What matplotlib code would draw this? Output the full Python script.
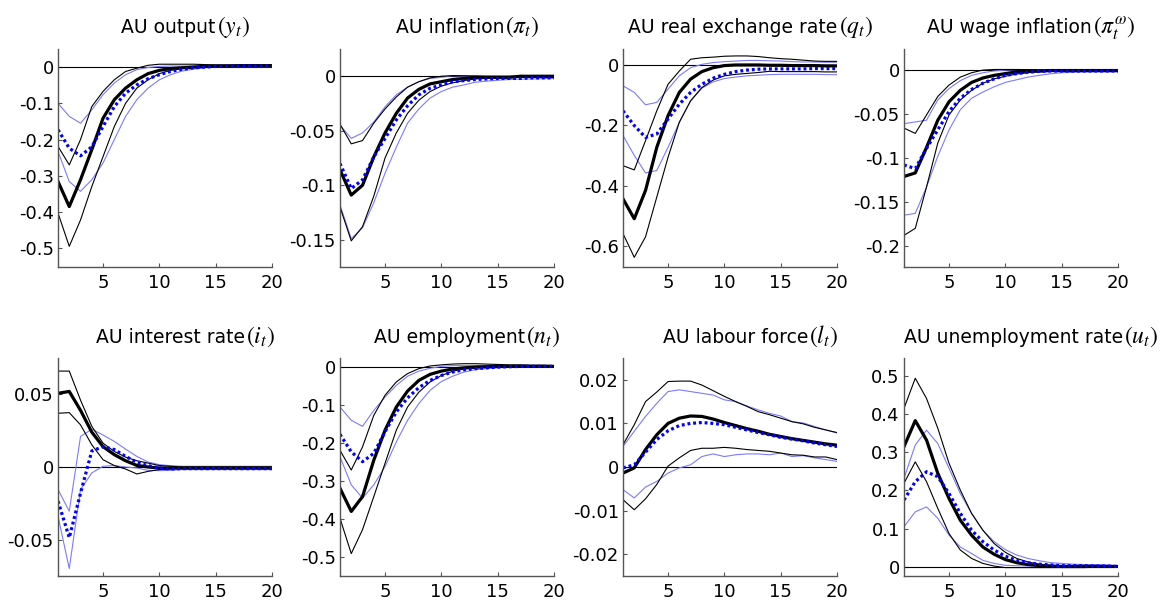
import matplotlib
matplotlib.use("Agg")
import matplotlib.pyplot as plt
import numpy as np

plt.rcParams["mathtext.fontset"] = "stix"
plt.rcParams["font.family"] = "DejaVu Sans"

horizon = np.arange(1, 21)

title_words = ["AU output", "AU inflation", "AU real exchange rate", "AU wage inflation",
               "AU interest rate", "AU employment", "AU labour force", "AU unemployment rate"]
title_math = [r"$(y_t)$", r"$(\pi_t)$", r"$(q_t)$", r"$(\pi_t^{\omega})$",
              r"$(i_t)$", r"$(n_t)$", r"$(l_t)$", r"$(u_t)$"]

# black = model A (median, upper, lower); blue = model B (median, upper, lower)
output_black = [-0.316, -0.385, -0.311, -0.228, -0.141, -0.09, -0.058, -0.035, -0.018, -0.009,
                -0.004, -0.002, 0.0, 0.002, 0.003, 0.003, 0.004, 0.004, 0.004, 0.004]
output_black_hi = [-0.219, -0.27, -0.2, -0.109, -0.067, -0.035, -0.012, -0.003, 0.005, 0.008,
                   0.008, 0.008, 0.008, 0.007, 0.006, 0.006, 0.005, 0.005, 0.005, 0.005]
output_black_lo = [-0.403, -0.495, -0.422, -0.33, -0.247, -0.164, -0.1, -0.058, -0.035, -0.018,
                   -0.009, -0.004, -0.001, 0.0, 0.001, 0.001, 0.002, 0.002, 0.002, 0.002]
output_blue = [-0.173, -0.224, -0.245, -0.22, -0.164, -0.109, -0.072, -0.049, -0.032, -0.021,
               -0.012, -0.006, -0.002, 0.0, 0.002, 0.003, 0.003, 0.003, 0.003, 0.003]
output_blue_hi = [-0.1, -0.136, -0.155, -0.118, -0.076, -0.044, -0.021, -0.007, -0.001, 0.002,
                  0.003, 0.003, 0.003, 0.003, 0.003, 0.003, 0.003, 0.003, 0.003, 0.003]
output_blue_lo = [-0.233, -0.316, -0.343, -0.311, -0.265, -0.2, -0.136, -0.09, -0.058, -0.035,
                  -0.021, -0.011, -0.006, -0.002, 0.0, 0.001, 0.001, 0.001, 0.001, 0.001]

infl_black = [-0.086, -0.109, -0.1, -0.074, -0.052, -0.034, -0.02, -0.012, -0.007, -0.005,
              -0.003, -0.002, -0.001, -0.001, -0.001, -0.001, 0.0, 0.0, 0.0, 0.0]
infl_black_hi = [-0.044, -0.062, -0.059, -0.043, -0.03, -0.019, -0.01, -0.005, -0.0015, 0.0,
                 0.0006, 0.0005, 0.0003, 0.0, 0.0, 0.0, 0.0, 0.0, 0.0, 0.0]
infl_black_lo = [-0.12, -0.151, -0.138, -0.11, -0.075, -0.052, -0.034, -0.022, -0.014, -0.009,
                 -0.006, -0.004, -0.0025, -0.002, -0.0015, -0.001, -0.001, -0.001, -0.001, -0.001]
infl_blue = [-0.08, -0.103, -0.095, -0.074, -0.057, -0.04, -0.027, -0.017, -0.011, -0.008,
             -0.005, -0.004, -0.003, -0.0025, -0.002, -0.002, -0.002, -0.0015, -0.0015, -0.0015]
infl_blue_hi = [-0.045, -0.057, -0.052, -0.042, -0.028, -0.017, -0.01, -0.005, -0.002, -0.001,
                0.0005, 0.0, -0.0003, -0.0005, -0.0005, -0.0005, -0.0005, -0.0005, -0.0005, -0.0005]
infl_blue_lo = [-0.118, -0.149, -0.139, -0.116, -0.089, -0.065, -0.043, -0.03, -0.02, -0.014,
                -0.01, -0.008, -0.0055, -0.0045, -0.0037, -0.003, -0.0027, -0.0025, -0.0022, -0.002]

rer_black = [-0.444, -0.51, -0.416, -0.273, -0.168, -0.091, -0.047, -0.022, -0.009, -0.002,
             0.0, 0.0, 0.0, -0.001, -0.001, -0.002, -0.002, -0.002, -0.003, -0.003]
rer_black_hi = [-0.334, -0.348, -0.251, -0.152, -0.064, -0.02, 0.019, 0.024, 0.026, 0.029,
                0.03, 0.03, 0.028, 0.024, 0.021, 0.019, 0.016, 0.013, 0.012, 0.012]
rer_black_lo = [-0.559, -0.638, -0.57, -0.438, -0.306, -0.19, -0.119, -0.075, -0.05, -0.036,
                -0.031, -0.028, -0.025, -0.021, -0.022, -0.022, -0.022, -0.022, -0.023, -0.023]
rer_blue = [-0.152, -0.201, -0.24, -0.229, -0.179, -0.13, -0.091, -0.064, -0.044, -0.031,
            -0.022, -0.017, -0.014, -0.013, -0.013, -0.013, -0.013, -0.012, -0.012, -0.012]
rer_blue_hi = [-0.069, -0.091, -0.132, -0.124, -0.08, -0.036, -0.009, 0.002, 0.008, 0.011,
               0.013, 0.015, 0.015, 0.014, 0.013, 0.011, 0.01, 0.01, 0.009, 0.009]
rer_blue_lo = [-0.234, -0.3, -0.358, -0.35, -0.273, -0.19, -0.119, -0.077, -0.056, -0.045,
               -0.04, -0.036, -0.034, -0.032, -0.031, -0.031, -0.031, -0.031, -0.032, -0.032]

wage_black = [-0.121, -0.117, -0.088, -0.057, -0.036, -0.023, -0.014, -0.009, -0.006, -0.004,
              -0.002, -0.001, -0.001, -0.0005, -0.0005, -0.0005, -0.0005, -0.0005, -0.0005, -0.0005]
wage_black_hi = [-0.066, -0.072, -0.051, -0.03, -0.017, -0.008, -0.003, 0.0, 0.0007, 0.0007,
                 0.0007, 0.0005, 0.0003, 0.0, 0.0, 0.0, 0.0, 0.0, 0.0, 0.0]
wage_black_lo = [-0.188, -0.18, -0.133, -0.083, -0.051, -0.034, -0.023, -0.015, -0.01, -0.007,
                 -0.0045, -0.003, -0.002, -0.0015, -0.001, -0.001, -0.001, -0.001, -0.001, -0.001]
wage_blue = [-0.108, -0.112, -0.089, -0.068, -0.047, -0.032, -0.022, -0.015, -0.01, -0.006,
             -0.004, -0.0025, -0.0015, -0.001, -0.001, -0.001, -0.001, -0.001, -0.001, -0.001]
wage_blue_hi = [-0.061, -0.059, -0.057, -0.034, -0.021, -0.012, -0.006, -0.003, -0.001, 0.0,
                0.0004, 0.0003, 0.0, 0.0, 0.0, 0.0, 0.0, 0.0, 0.0, 0.0]
wage_blue_lo = [-0.165, -0.163, -0.133, -0.098, -0.068, -0.045, -0.032, -0.025, -0.019, -0.014,
                -0.011, -0.008, -0.006, -0.0042, -0.003, -0.0025, -0.0022, -0.002, -0.002, -0.002]

rate_black = [0.0507, 0.052, 0.039, 0.024, 0.014, 0.0085, 0.0043, 0.0011, 0.0, -0.0007,
              -0.0007, -0.0007, -0.0007, -0.0007, -0.0007, -0.0007, -0.0007, -0.0007, -0.0007, -0.0007]
rate_black_hi = [0.066, 0.066, 0.046, 0.028, 0.0164, 0.0107, 0.0068, 0.0043, 0.0027, 0.001,
                 0.0005, 0.0, 0.0, 0.0, 0.0, 0.0, 0.0, 0.0, 0.0, 0.0]
rate_black_lo = [0.037, 0.0374, 0.029, 0.0153, 0.005, 0.001, -0.0014, -0.0048, -0.003, -0.0018,
                 -0.0014, -0.0009, -0.0009, -0.0009, -0.0009, -0.0009, -0.0009, -0.0009, -0.0009, -0.0009]
rate_blue = [-0.0235, -0.0486, -0.018, 0.011, 0.014, 0.012, 0.0073, 0.0032, 0.0009, -0.0007,
             -0.0014, -0.0011, -0.0011, -0.0011, -0.0011, -0.0011, -0.0011, -0.0011, -0.0011, -0.0011]
rate_blue_hi = [-0.0155, -0.0304, 0.021, 0.026, 0.022, 0.0176, 0.0123, 0.0073, 0.0034, 0.0016,
                0.0009, 0.0005, 0.0005, 0.0005, 0.0005, 0.0005, 0.0005, 0.0005, 0.0005, 0.0005]
rate_blue_lo = [-0.0338, -0.0699, -0.0155, -0.0041, 0.0005, 0.001, 0.0, -0.0007, -0.0023, -0.0025,
                -0.0023, -0.0018, -0.0018, -0.0018, -0.0018, -0.0018, -0.0018, -0.0018, -0.0018, -0.0018]

emp_black = [-0.319, -0.38, -0.341, -0.245, -0.166, -0.105, -0.063, -0.035, -0.019, -0.0105,
             -0.005, -0.002, 0.0, 0.001, 0.002, 0.002, 0.002, 0.002, 0.002, 0.002]
emp_black_hi = [-0.219, -0.271, -0.21, -0.127, -0.074, -0.039, -0.017, -0.004, 0.003, 0.006,
                0.008, 0.009, 0.009, 0.008, 0.007, 0.006, 0.006, 0.005, 0.005, 0.004]
emp_black_lo = [-0.398, -0.491, -0.428, -0.341, -0.253, -0.166, -0.105, -0.066, -0.039, -0.022,
                -0.011, -0.005, -0.002, 0.0, 0.0, 0.001, 0.001, 0.001, 0.001, 0.001]
emp_blue = [-0.177, -0.223, -0.249, -0.227, -0.17, -0.118, -0.081, -0.054, -0.035, -0.022,
            -0.013, -0.007, -0.004, -0.002, 0.0, 0.001, 0.002, 0.002, 0.002, 0.002]
emp_blue_hi = [-0.105, -0.14, -0.156, -0.114, -0.079, -0.048, -0.024, -0.0105, -0.003, 0.002,
               0.004, 0.004, 0.004, 0.004, 0.004, 0.004, 0.004, 0.004, 0.004, 0.004]
emp_blue_lo = [-0.236, -0.31, -0.345, -0.31, -0.262, -0.197, -0.14, -0.096, -0.061, -0.038,
               -0.024, -0.013, -0.007, -0.004, -0.002, 0.0, 0.0, 0.0, 0.0, 0.0]

lab_black = [-0.0014, -0.0002, 0.004, 0.0074, 0.01, 0.0112, 0.0117, 0.0116, 0.011, 0.0102,
             0.0095, 0.0088, 0.0082, 0.0075, 0.007, 0.0065, 0.0061, 0.0057, 0.0053, 0.005]
lab_black_hi = [0.0051, 0.0097, 0.015, 0.0172, 0.0196, 0.0197, 0.0197, 0.0188, 0.0175, 0.0162,
                0.015, 0.0139, 0.0127, 0.012, 0.0112, 0.0104, 0.0099, 0.0091, 0.0085, 0.0079]
lab_black_lo = [-0.0075, -0.0098, -0.0073, -0.004, 0.0002, 0.0021, 0.0038, 0.0043, 0.0043, 0.0045,
                0.0043, 0.004, 0.0038, 0.0036, 0.0032, 0.0028, 0.0027, 0.0023, 0.0023, 0.0017]
lab_blue = [-0.0002, 0.0005, 0.0034, 0.0063, 0.0083, 0.0095, 0.01, 0.0102, 0.01, 0.0097,
            0.0091, 0.0085, 0.0079, 0.0074, 0.0068, 0.0064, 0.006, 0.0055, 0.0051, 0.0047]
lab_blue_hi = [0.0047, 0.0082, 0.0116, 0.0146, 0.0173, 0.0177, 0.0173, 0.0169, 0.0165, 0.0154,
               0.015, 0.014, 0.0131, 0.0123, 0.0117, 0.0104, 0.0101, 0.0093, 0.0085, 0.0078]
lab_blue_lo = [-0.0052, -0.0071, -0.0046, -0.0033, -0.0014, -0.0002, 0.0005, 0.0024, 0.003, 0.0024,
               0.0028, 0.003, 0.003, 0.0028, 0.0032, 0.0024, 0.0026, 0.0021, 0.0017, 0.0013]

unemp_black = [0.315, 0.383, 0.332, 0.245, 0.179, 0.122, 0.083, 0.052, 0.033, 0.019,
               0.011, 0.006, 0.0035, 0.002, 0.001, 0.001, 0.001, 0.001, 0.001, 0.001]
unemp_black_hi = [0.415, 0.494, 0.441, 0.363, 0.271, 0.201, 0.14, 0.096, 0.061, 0.038,
                  0.022, 0.013, 0.007, 0.004, 0.003, 0.002, 0.002, 0.002, 0.002, 0.002]
unemp_black_lo = [0.219, 0.275, 0.223, 0.153, 0.087, 0.044, 0.022, 0.009, 0.002, -0.002,
                  -0.002, -0.002, -0.002, -0.002, -0.002, -0.002, -0.002, -0.001, -0.001, 0.0]
unemp_blue = [0.175, 0.223, 0.249, 0.236, 0.192, 0.14, 0.096, 0.066, 0.044, 0.028,
              0.017, 0.0105, 0.007, 0.005, 0.003, 0.003, 0.003, 0.002, 0.002, 0.001]
unemp_blue_hi = [0.232, 0.319, 0.358, 0.323, 0.258, 0.192, 0.14, 0.096, 0.066, 0.045,
                 0.031, 0.022, 0.016, 0.011, 0.009, 0.007, 0.006, 0.006, 0.005, 0.003]
unemp_blue_lo = [0.105, 0.144, 0.157, 0.127, 0.083, 0.052, 0.035, 0.017, 0.009, 0.004,
                 0.003, 0.002, 0.002, 0.002, 0.002, 0.002, 0.002, 0.002, 0.001, 0.0]

panels = [
    (output_black, output_black_hi, output_black_lo, output_blue, output_blue_hi, output_blue_lo),
    (infl_black, infl_black_hi, infl_black_lo, infl_blue, infl_blue_hi, infl_blue_lo),
    (rer_black, rer_black_hi, rer_black_lo, rer_blue, rer_blue_hi, rer_blue_lo),
    (wage_black, wage_black_hi, wage_black_lo, wage_blue, wage_blue_hi, wage_blue_lo),
    (rate_black, rate_black_hi, rate_black_lo, rate_blue, rate_blue_hi, rate_blue_lo),
    (emp_black, emp_black_hi, emp_black_lo, emp_blue, emp_blue_hi, emp_blue_lo),
    (lab_black, lab_black_hi, lab_black_lo, lab_blue, lab_blue_hi, lab_blue_lo),
    (unemp_black, unemp_black_hi, unemp_black_lo, unemp_blue, unemp_blue_hi, unemp_blue_lo),
]

ylims = [(-0.552, 0.05), (-0.175, 0.025), (-0.67, 0.053), (-0.224, 0.024),
         (-0.075, 0.075), (-0.55, 0.024), (-0.025, 0.025), (-0.024, 0.547)]
yticks = [
    [-0.5, -0.4, -0.3, -0.2, -0.1, 0],
    [-0.15, -0.1, -0.05, 0],
    [-0.6, -0.4, -0.2, 0],
    [-0.2, -0.15, -0.1, -0.05, 0],
    [-0.05, 0, 0.05],
    [-0.5, -0.4, -0.3, -0.2, -0.1, 0],
    [-0.02, -0.01, 0, 0.01, 0.02],
    [0, 0.1, 0.2, 0.3, 0.4, 0.5],
]

W, H = 1162, 601
fig = plt.figure(figsize=(W / 100, H / 100), dpi=100)
col_left = [58, 340, 623, 904]
row_top = [49, 358]
title_base = [33, 343]
ax_w, ax_h = 214, 218

light_blue = "#7b7bff"
spine_col = "#555555"

renderer = fig.canvas.get_renderer()

for k, (bm, bh, bl, um, uh, ul) in enumerate(panels):
    r, c = divmod(k, 4)
    left = col_left[c] / W
    bottom = (H - row_top[r] - ax_h) / H
    ax = fig.add_axes([left, bottom, ax_w / W, ax_h / H])

    ax.plot([1, 20], [0, 0], color="black", lw=0.8)
    ax.plot(horizon, uh, color=light_blue, lw=0.8)
    ax.plot(horizon, ul, color=light_blue, lw=0.8)
    ax.plot(horizon, bh, color="black", lw=0.8)
    ax.plot(horizon, bl, color="black", lw=0.8)
    ax.plot(horizon, bm, color="black", lw=2.3)
    ax.plot(horizon, um, color="#0000ff", lw=2.3, linestyle=(0, (0.9, 0.9)))

    ax.set_xlim(1, 20)
    ax.set_ylim(*ylims[k])
    ax.set_xticks([5, 10, 15, 20])
    ax.set_yticks(yticks[k])
    ax.set_yticklabels(["%g" % t for t in yticks[k]])
    ax.spines["top"].set_visible(False)
    ax.spines["right"].set_visible(False)
    for s in ("left", "bottom"):
        ax.spines[s].set_color(spine_col)
        ax.spines[s].set_linewidth(1.0)
    ax.tick_params(direction="in", length=3, width=0.8, color=spine_col, labelsize=13)
    ax.tick_params(axis="x", pad=5)
    ax.tick_params(axis="y", pad=3)

    # title: sans words followed by a larger serif math part
    cx = col_left[c] + ax_w / 2 + 20
    by = (H - title_base[r]) / H
    t1 = fig.text(0, by, title_words[k], fontsize=13.5, va="baseline", ha="left")
    t2 = fig.text(0, by, title_math[k], fontsize=17, va="baseline", ha="left")
    w1 = t1.get_window_extent(renderer).width
    w2 = t2.get_window_extent(renderer).width
    x0 = cx - (w1 + w2) / 2
    t1.set_x(x0 / W)
    t2.set_x((x0 + w1 + 1) / W)

fig.savefig("out.png", dpi=100)
